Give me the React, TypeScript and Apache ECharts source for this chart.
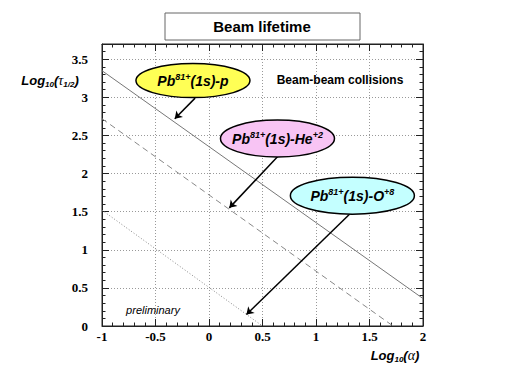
import React, { useEffect, useRef } from "react";
import * as echarts from "echarts";

// Curves (Log10(alpha), Log10(tau_1/2))
const solidLine: number[][] = [[-1, 3.35], [2, 0.36]];
const dashedLine: number[][] = [[-1, 2.72], [1.72, 0]];
const dottedLine: number[][] = [[-1, 1.52], [0.5, 0]];

// Annotation labels (anchor in data coordinates)
const labelNames = ["p", "He", "O"];
const labelX = [-0.15, 0.64, 1.34];
const labelY = [3.22, 2.46, 1.71];
const labelCharge = ["", "+2", "+8"];
const labelColors = ["#ffff55", "#f8c4f4", "#c4ffff"];
// Arrows: start -> end in data coordinates
const arrowStarts: number[][] = [[-0.13, 2.99], [0.66, 2.25], [1.33, 1.49]];
const arrowEnds: number[][] = [[-0.32, 2.72], [0.19, 1.55], [0.35, 0.15]];

const xTicks = { min: -1, max: 2, interval: 0.5 };
const yTicks = { min: 0, max: 3.7, interval: 0.5 };

const SANS = "Liberation Sans";
const SERIF = "Times New Roman";

export default function App() {
  const ref = useRef<HTMLDivElement>(null);
  useEffect(() => {
    if (!ref.current) return;
    const chart = echarts.init(ref.current, undefined, { renderer: "svg" });
    const tickCommon = {
      axisLine: { show: true, onZero: false, lineStyle: { color: "#222", width: 1 } },
      axisTick: { show: true, inside: true, length: 7, lineStyle: { color: "#222" } },
      minorTick: { show: true, splitNumber: 5, length: 3.5, lineStyle: { color: "#222" } },
    };
    const labelFmt = (v: number) =>
      Math.abs(v * 2 - Math.round(v * 2)) < 1e-6 ? String(Math.round(v * 10) / 10) : "";
    const richLabel = {
      a: { fontFamily: SANS, fontWeight: "bold", fontStyle: "italic", fontSize: 14, color: "#000", lineHeight: 18, verticalAlign: "middle" },
      sup: { fontFamily: SANS, fontWeight: "bold", fontStyle: "italic", fontSize: 9, color: "#000", lineHeight: 10, verticalAlign: "middle", padding: [0, 0, 7, 0] },
    };
    const axisTitleRich = {
      a: { fontFamily: SANS, fontWeight: "bold", fontStyle: "italic", fontSize: 13, lineHeight: 18, verticalAlign: "middle", color: "#000" },
      t: { fontFamily: SERIF, fontStyle: "italic", fontSize: 14, lineHeight: 18, verticalAlign: "middle", color: "#000" },
      s: { fontFamily: SANS, fontWeight: "bold", fontStyle: "italic", fontSize: 8, lineHeight: 9, verticalAlign: "middle", padding: [9, 0, 0, 0], color: "#000" },
    };
    chart.setOption({
      animation: false,
      backgroundColor: "#fff",
      grid: { left: 102, right: 87, top: 44, bottom: 57, show: true, borderColor: "#222", borderWidth: 1 },
      xAxis: [
        {
          type: "value", position: "bottom", ...xTicks, ...tickCommon,
          axisLabel: { formatter: labelFmt, fontFamily: SERIF, fontWeight: "bold", fontSize: 13, color: "#000", margin: 4 },
          splitLine: { show: true, lineStyle: { color: "#999", type: [1, 2] } },
        },
        {
          type: "value", position: "top", ...xTicks, ...tickCommon,
          axisLabel: { show: false }, splitLine: { show: false },
        },
      ],
      yAxis: [
        {
          type: "value", position: "left", ...yTicks, ...tickCommon,
          axisLabel: { formatter: labelFmt, fontFamily: SERIF, fontWeight: "bold", fontSize: 13, color: "#000", margin: 14 },
          splitLine: { show: true, lineStyle: { color: "#999", type: [1, 2] } },
        },
        {
          type: "value", position: "right", ...yTicks, ...tickCommon,
          axisLabel: { show: false }, splitLine: { show: false },
        },
      ],
      series: [
        { type: "line", data: solidLine, symbol: "none", lineStyle: { color: "#777", width: 1, type: "solid" }, silent: true },
        { type: "line", data: dashedLine, symbol: "none", lineStyle: { color: "#888", width: 1, type: [6, 4] }, silent: true },
        { type: "line", data: dottedLine, symbol: "none", lineStyle: { color: "#888", width: 1, type: [1, 2] }, silent: true },
        {
          type: "lines", coordinateSystem: "cartesian2d", z: 5,
          symbol: ["none", "arrow"], symbolSize: 7,
          lineStyle: { color: "#000", width: 1.5, opacity: 1 },
          data: arrowStarts.map((s, i) => ({ coords: [s, arrowEnds[i]] })),
        },
        {
          type: "custom", z: 10, clip: false,
          data: labelX.map((x, i) => [x, labelY[i], i]),
          renderItem: (params: any, api: any) => {
            const i = api.value(2);
            const [cx, cy] = api.coord([api.value(0), api.value(1)]);
            const rx = i === 2 ? 62 : 57;
            const ry = i === 0 ? 17 : 18.5;
            const charge = labelCharge[i];
            const text = charge
              ? `{a|Pb}{sup|81+}{a|(1s)-${labelNames[i]}}{sup|${charge}}`
              : `{a|Pb}{sup|81+}{a|(1s)-${labelNames[i]}}`;
            return {
              type: "group",
              children: [
                { type: "ellipse", shape: { cx, cy, rx, ry }, style: { fill: labelColors[i], stroke: "#000", lineWidth: 1.5 } },
                { type: "text", x: cx, y: cy, style: { text, rich: richLabel, align: "center", verticalAlign: "middle" } },
              ],
            };
          },
        },
      ],
      graphic: [
        { type: "rect", shape: { x: 165, y: 13, width: 195, height: 27 }, style: { fill: "#fff", stroke: "#666", lineWidth: 1 } },
        { type: "text", x: 262, y: 26.5, style: { text: "Beam lifetime", font: `bold 15px "${SANS}"`, fill: "#000", align: "center", verticalAlign: "middle" } },
        { type: "text", x: 340, y: 80, z: 20, style: { text: "Beam-beam collisions", font: `bold 12px "${SANS}"`, fill: "#000", align: "center", verticalAlign: "middle" } },
        { type: "text", x: 153, y: 310, z: 20, style: { text: "preliminary", font: `italic 11px "${SANS}"`, fill: "#000", align: "center", verticalAlign: "middle" } },
        {
          type: "text", x: 50, y: 80,
          style: { text: "{a|Log}{s|10}{a|(}{t|τ}{s|1/2}{a|)}", align: "center", verticalAlign: "middle", rich: axisTitleRich },
        },
        {
          type: "text", x: 395, y: 355,
          style: { text: "{a|Log}{s|10}{a|(}{t|α}{a|)}", align: "center", verticalAlign: "middle", rich: axisTitleRich },
        },
      ],
    });
    return () => chart.dispose();
  }, []);
  return <div ref={ref} style={{ position: "fixed", left: 0, top: 0, width: 510, height: 383 }} />;
}
